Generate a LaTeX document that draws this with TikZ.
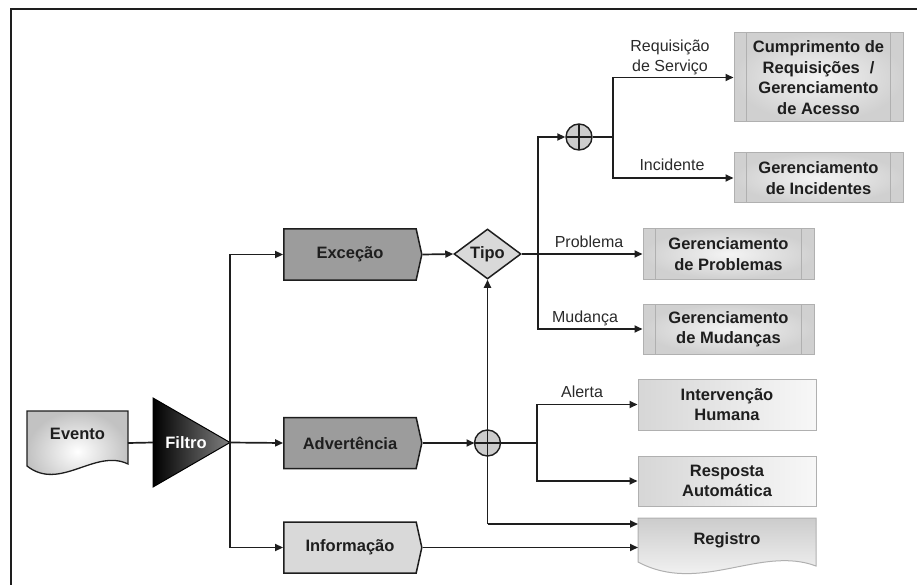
\documentclass[tikz,border=0pt]{standalone}
\usepackage{fontspec}
\setmainfont{Liberation Sans}
\usetikzlibrary{shapes.geometric,shapes.symbols,arrows.meta}

\definecolor{ink}{HTML}{1E1E1E}
\definecolor{darkfill}{HTML}{9C9C9C}
\definecolor{lightfill}{HTML}{D9D9D9}
\definecolor{procedge}{HTML}{B0B0B0}
\definecolor{procouter}{HTML}{D0D0D0}
\definecolor{procinner}{HTML}{F4F4F4}
\definecolor{labelink}{HTML}{2A2A2A}

\tikzset{
  boxfont/.style={font=\fontsize{16.5}{20.5}\selectfont\bfseries, text=ink, align=center},
  lblfont/.style={font=\fontsize{16}{20}\selectfont, text=labelink, align=center},
  flow/.style={draw=ink, line width=1.7pt},
  arr/.style={flow, -{Triangle[length=8pt,width=7pt]}},
  stage/.style={signal, signal to=east, signal pointer angle=155, draw=ink,
    line width=1.5pt, minimum width=138pt, minimum height=51pt, inner sep=0pt, boxfont},
  proc/.style={rectangle, draw=procedge, line width=1pt, inner color=procinner,
    outer color=procouter, boxfont, inner sep=0pt,
    path picture={\draw[procedge, line width=1pt]
      ([xshift=12.5pt]path picture bounding box.north west) --
      ([xshift=12.5pt]path picture bounding box.south west)
      ([xshift=-12.5pt]path picture bounding box.north east) --
      ([xshift=-12.5pt]path picture bounding box.south east);}},
  action/.style={rectangle, draw=procedge, line width=1pt, left color=black!16,
    right color=black!3, boxfont, inner sep=0pt, minimum width=178pt},
  anchorbox/.style={rectangle, inner sep=0pt, outer sep=0pt},
  xor/.style={circle, draw=ink, line width=1.4pt, fill=black!20, minimum size=26pt,
    inner sep=0pt,
    path picture={\draw[ink, line width=1.2pt]
      (path picture bounding box.north) -- (path picture bounding box.south)
      (path picture bounding box.west) -- (path picture bounding box.east);}},
}

\begin{document}
\begin{tikzpicture}[x=1pt, y=-1pt]
\useasboundingbox (0,0) rectangle (917,585);

% outer frame
\draw[ink, line width=2pt] (11,585) -- (11,9) -- (917,9);

% ---- source: event document and filter ----
\shade[draw=ink, line width=1.3pt, inner color=white, outer color=black!24]
  (27,411) -- (128,411) -- (128,464) .. controls (95,448) and (60,492) .. (27,466) -- cycle;
\node[anchorbox, minimum width=101pt, minimum height=64pt] (evento) at (77.5,443) {};
\node[boxfont] (evento-txt) at (77.5,434) {Evento};

\node[isosceles triangle, isosceles triangle stretches, shape border rotate=0,
  minimum width=89pt, minimum height=77pt, inner sep=0pt, outer sep=0pt, anchor=lower side,
  left color=black, right color=black!50, draw=black, line width=1pt]
  (filtro) at (153,442.5) {};
\node[boxfont, text=white] (filtro-txt) at (186,443) {Filtro};

% ---- classification stages ----
\node[stage, fill=darkfill] (excecao) at (350,254.5) {Exceção};
\node[stage, fill=darkfill] (advert) at (350,443) {Advertência};
\node[stage, fill=lightfill] (info) at (350,547.5) {Informação};

\node[diamond, draw=ink, line width=1.5pt, fill=lightfill, aspect=1.34,
  minimum width=67pt, minimum height=50pt, inner sep=0pt, boxfont] (tipo) at (487.5,254) {Tipo};

% ---- downstream processes ----
\node[proc, minimum width=169pt, minimum height=89pt] (req) at (818.5,77.5)
  {Cumprimento de\\Requisições\hspace{0.6em}/\\Gerenciamento\\de Acesso};
\node[proc, minimum width=169pt, minimum height=50pt] (inc) at (818.5,178)
  {Gerenciamento\\de Incidentes};
\node[proc, minimum width=171pt, minimum height=50pt] (prob) at (728.5,254)
  {Gerenciamento\\de Problemas};
\node[proc, minimum width=171pt, minimum height=50pt] (mud) at (728.5,329)
  {Gerenciamento\\de Mudanças};

\node[action, minimum height=51pt] (interv) at (727,404.5) {Intervenção\\Humana};
\node[action, minimum height=50pt] (resp) at (727,481) {Resposta\\Automática};

\shade[draw=procedge, line width=1pt, top color=black!20, bottom color=white]
  (638,518) -- (816,518) -- (816,566) .. controls (760,545) and (700,595) .. (638,562) -- cycle;
\node[anchorbox, minimum width=178pt, minimum height=57pt] (registro) at (727,546.5) {};
\node[boxfont] (registro-txt) at (727,540) {Registro};

% ---- connectors ----
\draw[flow] (evento.east) -- (filtro.lower side);
\draw[arr] (filtro.apex) |- (excecao.west);
\draw[arr] (filtro.apex) -- (advert.west);
\draw[arr] (filtro.apex) |- (info.west);

\draw[arr] (excecao.east) -- (tipo.west);
\draw[arr] (tipo.east) -- (prob.west);
\coordinate (tipofork) at (538,254);
\coordinate (reqfork) at (613,137);
\coordinate (advfork) at (537,443);
\coordinate (logfork) at ([yshift=22.5pt]registro.west -| tipo.south);

\node[xor] (xor1) at (579,137) {};
\draw[arr] (tipofork) |- (xor1.west);
\draw[arr] (tipofork) |- (mud.west);
\draw[flow] (xor1.east) -- (reqfork);
\draw[arr] (reqfork) |- (req.west);
\draw[arr] (reqfork) |- (inc.west);

\draw[arr] (logfork) -- (tipo.south);
\draw[arr] (logfork) -- ([yshift=22.5pt]registro.west);
\draw[arr] (info.east) -- (info.east -| registro.west);
\draw[arr] (advert.east) -- (487.5-13,443);
\node[xor] (xor2) at (487.5,443) {};
\draw[flow] (xor2.east) -- (advfork);
\draw[arr] (advfork) |- (interv.west);
\draw[arr] (advfork) |- (resp.west);

% ---- branch labels ----
\node[lblfont] (lbl-req) at (670,57) {Requisição\\de Serviço};
\node[lblfont] (lbl-inc) at (672,165) {Incidente};
\node[lblfont] (lbl-prob) at (589,242) {Problema};
\node[lblfont] (lbl-mud) at (585,318) {Mudança};
\node[lblfont] (lbl-alert) at (582,392) {Alerta};
\end{tikzpicture}
\end{document}
